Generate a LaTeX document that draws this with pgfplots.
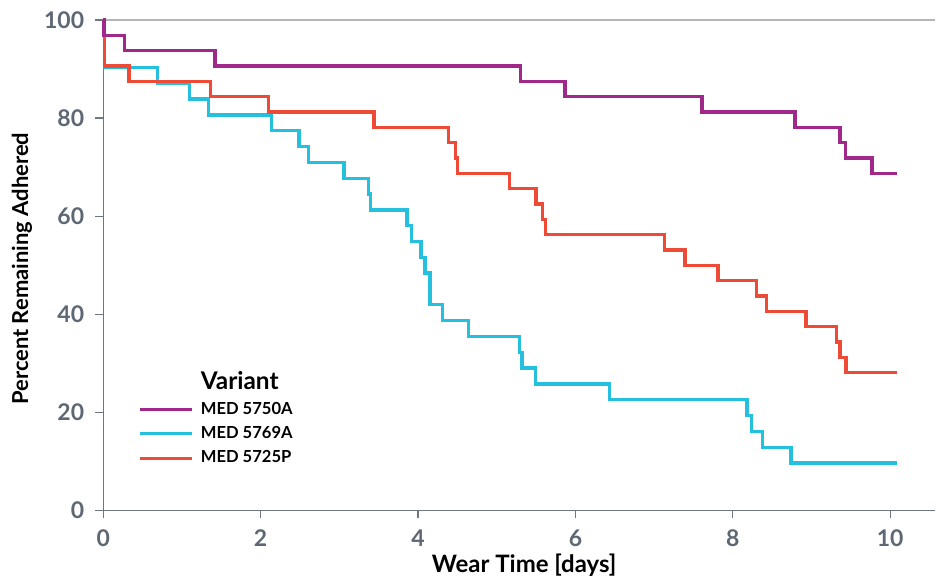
\documentclass[border=0pt]{standalone}
\usepackage{pgfplots}
\pgfplotsset{compat=1.18}
\usepackage{fontspec}
\setmainfont{Lato}

\definecolor{cPurple}{HTML}{A0288A}
\definecolor{cCyan}{HTML}{26C0DF}
\definecolor{cRed}{HTML}{EE4B36}
\definecolor{cTick}{HTML}{5E6774}
\definecolor{cAxis}{HTML}{6E7683}
\definecolor{cTop}{HTML}{B3B6BA}

\begin{document}
\begin{tikzpicture}
\begin{axis}[
    scale only axis,
    width=416.35pt, height=245.5pt,
    xmin=0, xmax=10.57, ymin=0, ymax=100,
    axis x line*=bottom, axis y line*=left,
    axis line style={cAxis, line width=0.7pt, -},
    xtick={0,2,...,10}, ytick={0,20,...,100},
    tick align=outside, major tick length=4pt,
    tick style={cAxis, line width=0.6pt},
    extra y ticks={100}, extra y tick labels={},
    extra y tick style={grid=major, major grid style={cTop, line width=0.9pt}, major tick length=0pt},
    /pgf/number format/assume math mode=true,
    ticklabel style={font=\fontsize{11.5}{13}\selectfont\bfseries, text=cTick},
    xticklabel style={yshift=-2pt},
    yticklabel style={xshift=-2pt},
    xlabel={Wear Time [days]}, ylabel={Percent Remaining Adhered},
    xlabel style={font=\fontsize{12}{14}\selectfont\bfseries, text=black,
        at={(axis description cs:0.506,-0.112)}, anchor=center},
    ylabel style={font=\fontsize{11}{13}\selectfont\bfseries, text=black,
        at={(axis description cs:-0.0976,0.493)}, anchor=center},
    clip=false,
    legend style={at={(0.035,0.298)}, anchor=north west, draw=none, fill=none,
        font=\fontsize{8.3}{10}\selectfont\bfseries, row sep=1.6pt,
        nodes={inner sep=1.5pt}},
    legend cell align=left,
    legend image code/.code={\draw[#1] (0pt,0pt) -- (26pt,0pt); \path (28pt,0pt);},
]
\addlegendimage{empty legend}
\addlegendentry{\fontsize{12.2}{14}\selectfont Variant}
\addlegendimage{cPurple, line width=1.6pt}
\addlegendentry{MED 5750A}
\addlegendimage{cCyan, line width=1.6pt}
\addlegendentry{MED 5769A}
\addlegendimage{cRed, line width=1.6pt}
\addlegendentry{MED 5725P}

% MED 5769A
\addplot[const plot, cCyan, line width=1.7pt, line join=miter, forget plot] coordinates {
(0,100) (0.02,90.32) (0.69,87.10) (1.10,83.87) (1.34,80.65) (2.14,77.42)
(2.49,74.19) (2.61,70.97) (3.06,67.74) (3.37,64.52) (3.40,61.29) (3.86,58.06)
(3.92,54.84) (4.04,51.61) (4.09,48.39) (4.15,41.94) (4.31,38.71) (4.64,35.48)
(5.29,32.26) (5.32,29.03) (5.49,25.81) (6.43,22.58) (8.18,19.35) (8.24,16.13)
(8.38,12.90) (8.74,9.68) (10.08,9.68)
};
% MED 5725P
\addplot[const plot, cRed, line width=1.7pt, line join=miter, forget plot] coordinates {
(0,100) (0.02,90.625) (0.33,87.5) (1.36,84.375) (2.10,81.25) (3.44,78.125)
(4.39,75) (4.48,71.875) (4.50,68.75) (5.16,65.625) (5.50,62.5) (5.58,59.375)
(5.62,56.25) (7.13,53.125) (7.39,50) (7.81,46.875) (8.30,43.75) (8.43,40.625)
(8.93,37.5) (9.32,34.375) (9.36,31.25) (9.44,28.125) (10.08,28.125)
};
% MED 5750A
\addplot[const plot, cPurple, line width=1.7pt, line join=miter, forget plot] coordinates {
(0,100) (0.01,96.875) (0.27,93.75) (1.42,90.625) (5.30,87.5) (5.87,84.375)
(7.61,81.25) (8.79,78.125) (9.36,75) (9.43,71.875) (9.77,68.75) (10.08,68.75)
};
\end{axis}
\path (current axis.south west) ++(-51.65pt,-33.5pt) rectangle ([yshift=10pt]current axis.north east);
\end{tikzpicture}
\end{document}
